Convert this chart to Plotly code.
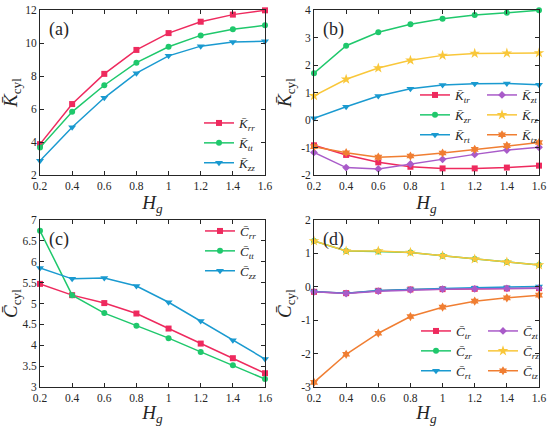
import plotly.graph_objects as go

W, H = 550, 426

# ---------------- data ----------------
hg = [0.2, 0.4, 0.6, 0.8, 1.0, 1.2, 1.4, 1.6]
hg_ticktext = ["0.2", "0.4", "0.6", "0.8", "1", "1.2", "1.4", "1.6"]

# (a) diagonal stiffness
K_rr = [3.87, 6.30, 8.13, 9.58, 10.60, 11.29, 11.72, 11.98]
K_tt = [3.66, 5.83, 7.44, 8.81, 9.77, 10.46, 10.84, 11.07]
K_zz = [2.86, 4.89, 6.68, 8.17, 9.22, 9.81, 10.06, 10.10]

# (b) off-diagonal stiffness
K_tr = [-0.92, -1.27, -1.54, -1.70, -1.76, -1.76, -1.73, -1.66]
K_zt = [-1.18, -1.73, -1.78, -1.60, -1.43, -1.25, -1.09, -0.99]
K_zr = [1.70, 2.70, 3.19, 3.48, 3.68, 3.82, 3.90, 3.99]
K_rz = [0.88, 1.48, 1.89, 2.17, 2.35, 2.42, 2.43, 2.44]
K_rt = [0.06, 0.48, 0.87, 1.14, 1.27, 1.32, 1.33, 1.28]
K_tz = [-0.97, -1.19, -1.35, -1.31, -1.20, -1.07, -0.93, -0.82]

# (c) diagonal damping
C_rr = [5.47, 5.20, 5.01, 4.76, 4.40, 4.04, 3.69, 3.33]
C_tt = [6.74, 5.20, 4.77, 4.47, 4.17, 3.84, 3.52, 3.19]
C_zz = [5.85, 5.59, 5.61, 5.42, 5.03, 4.58, 4.12, 3.67]

# (d) off-diagonal damping
C_tr = [-0.15, -0.19, -0.12, -0.08, -0.07, -0.06, -0.05, -0.04]
C_zt = [-0.15, -0.20, -0.13, -0.09, -0.07, -0.06, -0.05, -0.04]
C_zr = [1.37, 1.07, 1.06, 1.03, 0.93, 0.83, 0.74, 0.65]
C_rz = [1.37, 1.07, 1.07, 1.03, 0.93, 0.83, 0.74, 0.65]
C_rt = [-0.14, -0.19, -0.11, -0.07, -0.05, -0.03, -0.02, 0.01]
C_tz = [-2.86, -2.02, -1.39, -0.89, -0.61, -0.43, -0.33, -0.25]

yticks_a = [2, 4, 6, 8, 10, 12]
yticks_b = [-2, -1, 0, 1, 2, 3, 4]
yticks_c = [3, 3.5, 4, 4.5, 5, 5.5, 6, 6.5, 7]
yticks_c_text = ["3", "3.5", "4", "4.5", "5", "5.5", "6", "6.5", "7"]
yticks_d = [-3, -2, -1, 0, 1, 2]

# ---------------- styles ----------------
RED = "#EE2A5E"
GREEN = "#1FC86C"
BLUE = "#1A9AD0"
PURPLE = "#A95BC9"
YELLOW = "#F9C73A"
ORANGE = "#F07E32"
FONT = "Liberation Serif"
AXC = "#262626"


def px_x(p):
    return p / W


def px_y(p):
    return 1 - p / H


def lab(sym, sub):
    return f"<i>{sym}\u0304</i><sub><i>{sub}</i></sub>"


fig = go.Figure()


def add(xa, ya, y, name, color, symbol, legend, size=6):
    fig.add_trace(go.Scatter(
        x=hg, y=y, name=name, mode="lines+markers",
        line=dict(color=color, width=1.5),
        marker=dict(color=color, symbol=symbol, size=size),
        xaxis=xa, yaxis=ya, legend=legend, cliponaxis=False,
    ))


# (a)
add("x", "y", K_rr, lab("K", "rr"), RED, "square", "legend")
add("x", "y", K_tt, lab("K", "tt"), GREEN, "circle", "legend")
add("x", "y", K_zz, lab("K", "zz"), BLUE, "triangle-down", "legend", 7)
# (b)
add("x2", "y2", K_tr, lab("K", "tr"), RED, "square", "legend2")
add("x2", "y2", K_zr, lab("K", "zr"), GREEN, "circle", "legend2")
add("x2", "y2", K_rt, lab("K", "rt"), BLUE, "triangle-down", "legend2", 7)
add("x2", "y2", K_zt, lab("K", "zt"), PURPLE, "diamond", "legend3")
add("x2", "y2", K_rz, lab("K", "rz"), YELLOW, "star", "legend3", 8)
add("x2", "y2", K_tz, lab("K", "tz"), ORANGE, "hexagram", "legend3", 7)
# (c)
add("x3", "y3", C_rr, lab("C", "rr"), RED, "square", "legend4")
add("x3", "y3", C_tt, lab("C", "tt"), GREEN, "circle", "legend4")
add("x3", "y3", C_zz, lab("C", "zz"), BLUE, "triangle-down", "legend4", 7)
# (d)
add("x4", "y4", C_tr, lab("C", "tr"), RED, "square", "legend5")
add("x4", "y4", C_zr, lab("C", "zr"), GREEN, "circle", "legend5")
add("x4", "y4", C_rt, lab("C", "rt"), BLUE, "triangle-down", "legend5", 7)
add("x4", "y4", C_zt, lab("C", "zt"), PURPLE, "diamond", "legend6")
add("x4", "y4", C_rz, lab("C", "rz"), YELLOW, "star", "legend6", 8)
add("x4", "y4", C_tz, lab("C", "tz"), ORANGE, "hexagram", "legend6", 7)

xdom_l = [px_x(40), px_x(265)]
xdom_r = [px_x(314), px_x(539)]
ydom_t = [px_y(175), px_y(10)]
ydom_b = [px_y(387), px_y(220)]

common = dict(
    showline=True, linecolor=AXC, linewidth=0.8, mirror="ticks",
    ticks="inside", ticklen=4, tickwidth=0.8, tickcolor=AXC,
    showgrid=False, zeroline=False, automargin=False,
    tickfont=dict(family=FONT, size=11.5, color=AXC),
)


def xaxis(dom, anchor):
    return dict(
        domain=dom, anchor=anchor, range=[0.2, 1.6],
        tickvals=hg, ticktext=hg_ticktext,
        title=dict(text="<i>H</i><sub><i>g</i></sub>",
                   font=dict(family=FONT, size=19, color=AXC), standoff=4),
        **common,
    )


def yaxis(dom, anchor, rng, tv, tt, sym):
    return dict(
        domain=dom, anchor=anchor, range=rng,
        tickvals=tv, ticktext=tt,
        title=dict(text=f"<i>{sym}\u0304</i><sub>cyl</sub>",
                   font=dict(family=FONT, size=19, color=AXC), standoff=4),
        **common,
    )


def legend(x, xanchor, y, yanchor):
    return dict(
        x=x, xanchor=xanchor, y=y, yanchor=yanchor,
        bgcolor="rgba(0,0,0,0)", borderwidth=0,
        font=dict(family=FONT, size=13, color=AXC),
        tracegroupgap=0, itemwidth=30,
    )


fig.update_layout(
    width=W, height=H,
    margin=dict(l=0, r=0, t=0, b=0, autoexpand=False),
    paper_bgcolor="white", plot_bgcolor="white",
    font=dict(family=FONT, color=AXC),
    xaxis=xaxis(xdom_l, "y"),
    yaxis=yaxis(ydom_t, "x", [2, 12], yticks_a, [str(v) for v in yticks_a], "K"),
    xaxis2=xaxis(xdom_r, "y2"),
    yaxis2=yaxis(ydom_t, "x2", [-2, 4], yticks_b, [str(v) for v in yticks_b], "K"),
    xaxis3=xaxis(xdom_l, "y3"),
    yaxis3=yaxis(ydom_b, "x3", [3, 7], yticks_c, yticks_c_text, "C"),
    xaxis4=xaxis(xdom_r, "y4"),
    yaxis4=yaxis(ydom_b, "x4", [-3, 2], yticks_d, [str(v) for v in yticks_d], "C"),
    legend=legend(px_x(262), "right", px_y(178), "bottom"),
    legend2=legend(px_x(478), "right", px_y(80), "top"),
    legend3=legend(px_x(545), "right", px_y(80), "top"),
    legend4=legend(px_x(262), "right", px_y(216), "top"),
    legend5=legend(px_x(478), "right", px_y(386), "bottom"),
    legend6=legend(px_x(545), "right", px_y(386), "bottom"),
)

for i, (xr, yr) in enumerate([("x", "y"), ("x2", "y2"), ("x3", "y3"), ("x4", "y4")]):
    fig.add_annotation(
        text=f"({'abcd'[i]})", xref=f"{xr} domain", yref=f"{yr} domain",
        x=0.03, y=0.96, xanchor="left", yanchor="top", showarrow=False,
        font=dict(family=FONT, size=18, color=AXC),
    )

fig.write_html("out.html", config={"displayModeBar": False},
               post_script="document.body.style.margin='0px';")
